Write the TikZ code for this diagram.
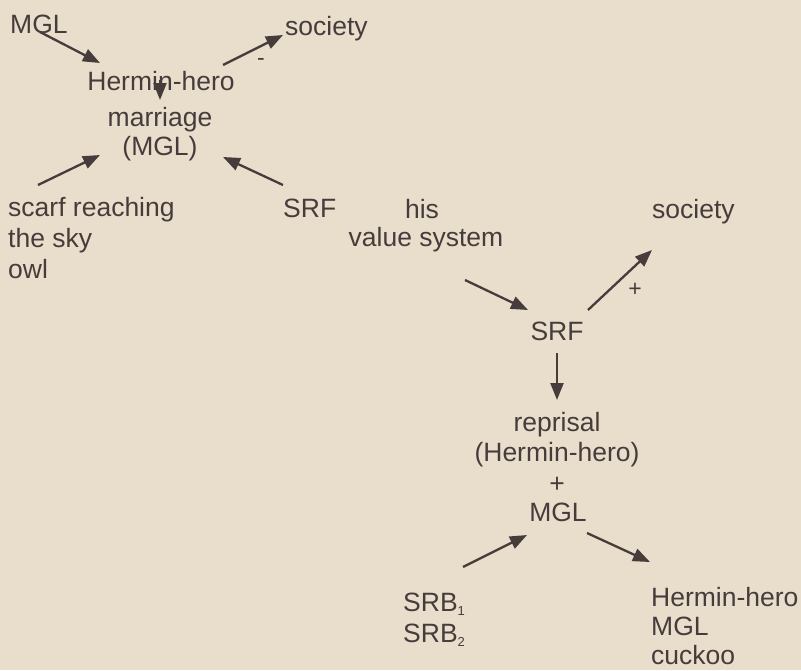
\documentclass[tikz,border=0pt]{standalone}
\usepackage{fontspec}
\setmainfont{Liberation Sans}
\usetikzlibrary{arrows.meta}
\definecolor{paper}{RGB}{233,222,203}
\definecolor{ink}{RGB}{70,60,60}
\newcommand{\subnum}[1]{\raisebox{-4pt}{\fontsize{13}{13}\selectfont #1}}
\begin{document}
\begin{tikzpicture}[x=1pt,y=-1pt,
  lbl/.style={inner sep=0pt, text=ink, font=\fontsize{26.5}{31}\selectfont},
  sign/.style={inner sep=0pt, text=ink, font=\fontsize{23}{23}\selectfont},
  arr/.style={draw=ink, line width=2.3pt, -{Triangle[length=17pt,width=13pt]}}]
\fill[paper] (0,0) rectangle (801,670);
\useasboundingbox (0,0) rectangle (801,670);
% upper-left cluster
\node[lbl, anchor=base west] (mglA) at (10,33) {MGL};
\node[lbl, anchor=base west] (socA) at (285,35) {society};
\node[lbl, anchor=base] (hh) at (161,90) {Hermin-hero};
\node[lbl, anchor=base] (mar) at (160,126) {marriage};
\node[lbl, anchor=base] (mglB) at (160,155) {(MGL)};
\node[lbl, anchor=base west] (sc1) at (8,216) {scarf reaching};
\node[lbl, anchor=base west] (sc2) at (8,247) {the sky};
\node[lbl, anchor=base west] (sc3) at (8,278) {owl};
\node[lbl, anchor=base west] (srfA) at (283,217) {SRF};
\node[sign] (minus) at (261,62) {-};
% right cluster
\node[lbl, anchor=base] (his) at (422,218) {his};
\node[lbl, anchor=base] (vs) at (426,246) {value system};
\node[lbl, anchor=base west] (socB) at (652,218) {society};
\node[lbl, anchor=base] (srfB) at (557,340) {SRF};
\node[sign] (plusA) at (635,290) {+};
\node[lbl, anchor=base] (rep) at (557,431) {reprisal};
\node[lbl, anchor=base] (hh2) at (557,461) {(Hermin-hero)};
\node[lbl, anchor=base] (plusB) at (557,492) {+};
\node[lbl, anchor=base] (mglC) at (558,521) {MGL};
\node[lbl, anchor=base west] (srb1) at (403,611) {SRB\subnum{1}};
\node[lbl, anchor=base west] (srb2) at (403,642) {SRB\subnum{2}};
\node[lbl, anchor=base west] (hh3) at (651,606) {Hermin-hero};
\node[lbl, anchor=base west] (mglD) at (651,635) {MGL};
\node[lbl, anchor=base west] (cuc) at (651,664) {cuckoo};
% arrow end points
\coordinate (a1s) at (40,32);   \coordinate (a1e) at (100,63);
\coordinate (a2s) at (223,65);  \coordinate (a2e) at (283,35);
\coordinate (a3s) at (160,80);  \coordinate (a3e) at (160,100);
\coordinate (a4s) at (38,185);  \coordinate (a4e) at (100,155);
\coordinate (a5s) at (283,185); \coordinate (a5e) at (223,157);
\coordinate (a6s) at (465,280); \coordinate (a6e) at (528,310);
\coordinate (a7s) at (588,310); \coordinate (a7e) at (652,250);
\coordinate (a8s) at (557,353); \coordinate (a8e) at (557,400);
\coordinate (a9s) at (463,567); \coordinate (a9e) at (527,535);
\coordinate (a10s) at (587,533); \coordinate (a10e) at (650,562);
\draw[arr] (a1s) -- (a1e);
\draw[arr] (a2s) -- (a2e);
\draw[arr] (a3s) -- (a3e);
\draw[arr] (a4s) -- (a4e);
\draw[arr] (a5s) -- (a5e);
\draw[arr] (a6s) -- (a6e);
\draw[arr] (a7s) -- (a7e);
\draw[arr] (a8s) -- (a8e);
\draw[arr] (a9s) -- (a9e);
\draw[arr] (a10s) -- (a10e);
\end{tikzpicture}
\end{document}
